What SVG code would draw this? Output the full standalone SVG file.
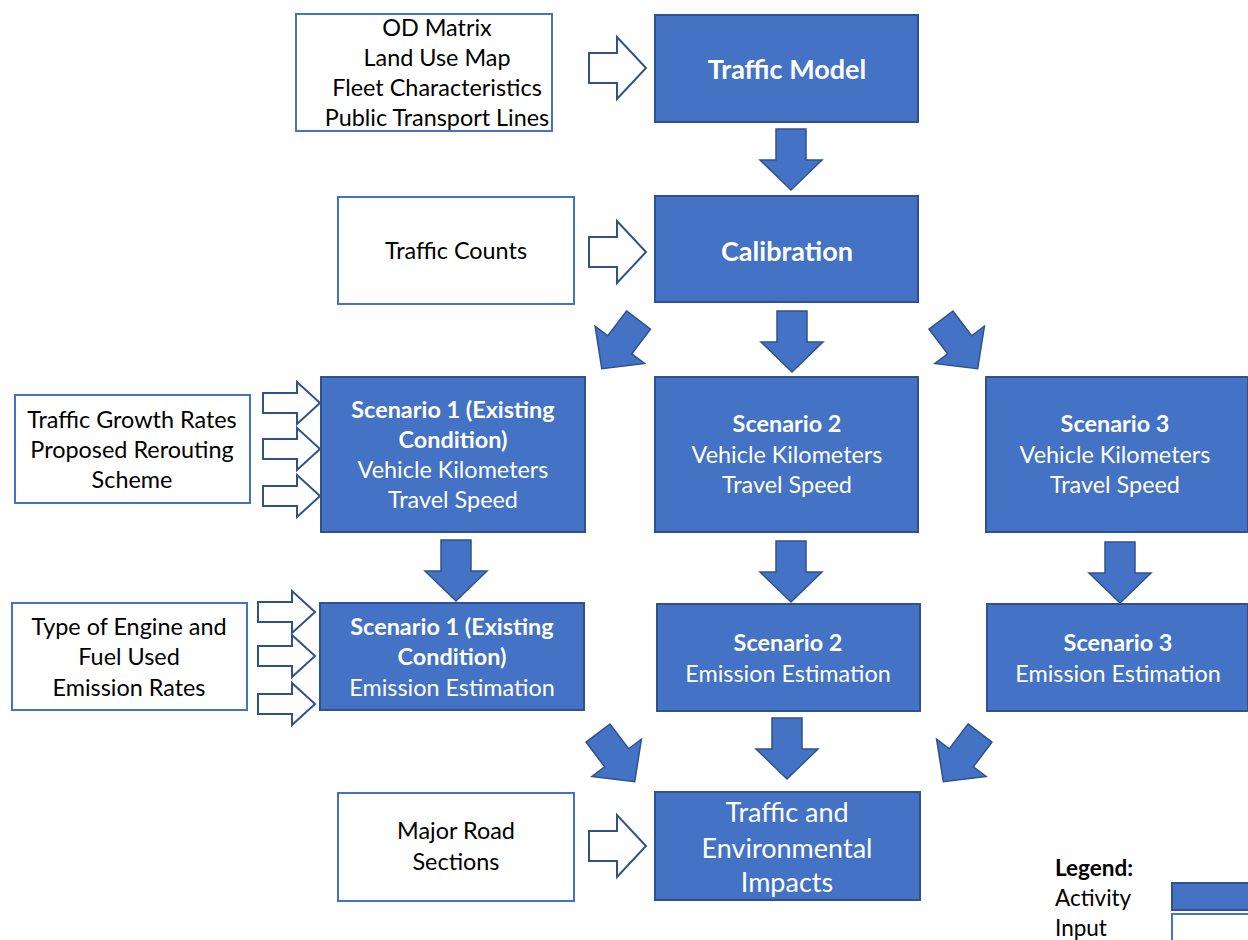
<svg xmlns="http://www.w3.org/2000/svg" width="1248" height="940" viewBox="0 0 1248 940">
<defs>
<style>
.act{fill:#4472C4;stroke:#2F528F;stroke-width:2}
.inp{fill:#fff;stroke:#4472C4;stroke-width:2}
.arr{fill:#4472C4;stroke:#2F528F;stroke-width:1.5;stroke-linejoin:miter}
.harr{fill:#fff;stroke:#2F528F;stroke-width:2;stroke-linejoin:miter}
text{font-family:Lato,"Open Sans","Liberation Sans",sans-serif;font-size:23.4px;text-anchor:middle}
.w{fill:#fff}
.k{fill:#000}
.b{font-weight:bold}
.big{font-size:27px}
.lg{text-anchor:start;font-size:22.5px}
</style>
<path id="down" d="M-15,0 L15,0 L15,31 L31,31 L0,61 L-31,31 L-15,31 Z"/>
<path id="big" d="M0,-15 H28 V-31 L57,0 L28,31 V15 H0 Z"/>
<path id="small" d="M0,-10 H34 V-21 L57,0 L34,21 V10 H0 Z"/>
</defs>
<rect width="1248" height="940" fill="#fff"/>

<g id="connectors">
<use href="#big" class="harr" x="589" y="68"/>
<use href="#big" class="harr" x="589" y="252"/>
<use href="#big" class="harr" x="589" y="846"/>
<use href="#small" class="harr" x="263" y="403"/>
<use href="#small" class="harr" x="263" y="449"/>
<use href="#small" class="harr" x="263" y="496"/>
<use href="#small" class="harr" x="258" y="612"/>
<use href="#small" class="harr" x="258" y="656"/>
<use href="#small" class="harr" x="258" y="704"/>
<use href="#down" class="arr" transform="translate(791,129)"/>
<use href="#down" class="arr" transform="translate(792,311)"/>
<use href="#down" class="arr" transform="translate(638.5,320) rotate(37)"/>
<use href="#down" class="arr" transform="translate(941,320) rotate(-37)"/>
<use href="#down" class="arr" transform="translate(456,540)"/>
<use href="#down" class="arr" transform="translate(791,541)"/>
<use href="#down" class="arr" transform="translate(1120,542)"/>
<use href="#down" class="arr" transform="translate(598,733) rotate(-37)"/>
<use href="#down" class="arr" transform="translate(787,718)"/>
<use href="#down" class="arr" transform="translate(980,733) rotate(37)"/>
</g>

<g id="inputs1">
<rect class="inp" x="296" y="14" width="256" height="117"/>
<text class="k" x="437" y="36">OD Matrix</text>
<text class="k" x="437" y="66">Land Use Map</text>
<text class="k" x="437" y="96">Fleet Characteristics</text>
<text class="k" x="437" y="126">Public Transport Lines</text>
</g>
<g id="trafficModel">
<rect class="act" x="655" y="15" width="263" height="107"/>
<text class="w b big" x="787" y="79">Traffic Model</text>
</g>
<g id="trafficCounts">
<rect class="inp" x="338" y="197" width="236" height="107"/>
<text class="k" x="456" y="259">Traffic Counts</text>
</g>
<g id="calibration">
<rect class="act" x="655" y="196" width="263" height="106"/>
<text class="w b big" x="787" y="261">Calibration</text>
</g>
<g id="growth">
<rect class="inp" x="15" y="395" width="235" height="108"/>
<text class="k" x="132" y="428">Traffic Growth Rates</text>
<text class="k" x="132" y="458">Proposed Rerouting</text>
<text class="k" x="132" y="488">Scheme</text>
</g>
<g id="scenario1">
<rect class="act" x="321" y="377" width="264" height="155"/>
<text class="w b" x="453" y="418">Scenario 1 (Existing</text>
<text class="w b" x="453" y="448">Condition)</text>
<text class="w" x="453" y="478">Vehicle Kilometers</text>
<text class="w" x="453" y="508">Travel Speed</text>
</g>
<g id="scenario2">
<rect class="act" x="655" y="377" width="263" height="155"/>
<text class="w b" x="787" y="432">Scenario 2</text>
<text class="w" x="787" y="463">Vehicle Kilometers</text>
<text class="w" x="787" y="493">Travel Speed</text>
</g>
<g id="scenario3">
<rect class="act" x="986" y="377" width="262" height="155"/>
<text class="w b" x="1115" y="432">Scenario 3</text>
<text class="w" x="1115" y="463">Vehicle Kilometers</text>
<text class="w" x="1115" y="493">Travel Speed</text>
</g>
<g id="engine">
<rect class="inp" x="12" y="603" width="235" height="107"/>
<text class="k" x="129" y="635">Type of Engine and</text>
<text class="k" x="129" y="665">Fuel Used</text>
<text class="k" x="129" y="696">Emission Rates</text>
</g>
<g id="emission1">
<rect class="act" x="320" y="603" width="264" height="107"/>
<text class="w b" x="452" y="635">Scenario 1 (Existing</text>
<text class="w b" x="452" y="665">Condition)</text>
<text class="w" x="452" y="696">Emission Estimation</text>
</g>
<g id="emission2">
<rect class="act" x="657" y="604" width="263" height="107"/>
<text class="w b" x="788" y="651">Scenario 2</text>
<text class="w" x="788" y="682">Emission Estimation</text>
</g>
<g id="emission3">
<rect class="act" x="987" y="604" width="261" height="107"/>
<text class="w b" x="1118" y="651">Scenario 3</text>
<text class="w" x="1118" y="682">Emission Estimation</text>
</g>
<g id="majorRoad">
<rect class="inp" x="338" y="793" width="236" height="108"/>
<text class="k" x="456" y="839">Major Road</text>
<text class="k" x="456" y="870">Sections</text>
</g>
<g id="impacts">
<rect class="act" x="655" y="792" width="265" height="108"/>
<text class="w big" x="787" y="822">Traffic and</text>
<text class="w big" x="787" y="858">Environmental</text>
<text class="w big" x="787" y="892">Impacts</text>
</g>
<g id="legend">
<text class="k b lg" x="1055" y="876">Legend:</text>
<text class="k lg" x="1055" y="906">Activity</text>
<text class="k lg" x="1055" y="936">Input</text>
<rect class="act" x="1172" y="883" width="80" height="27"/>
<rect class="inp" x="1172" y="914" width="80" height="27"/>
</g>
</svg>
